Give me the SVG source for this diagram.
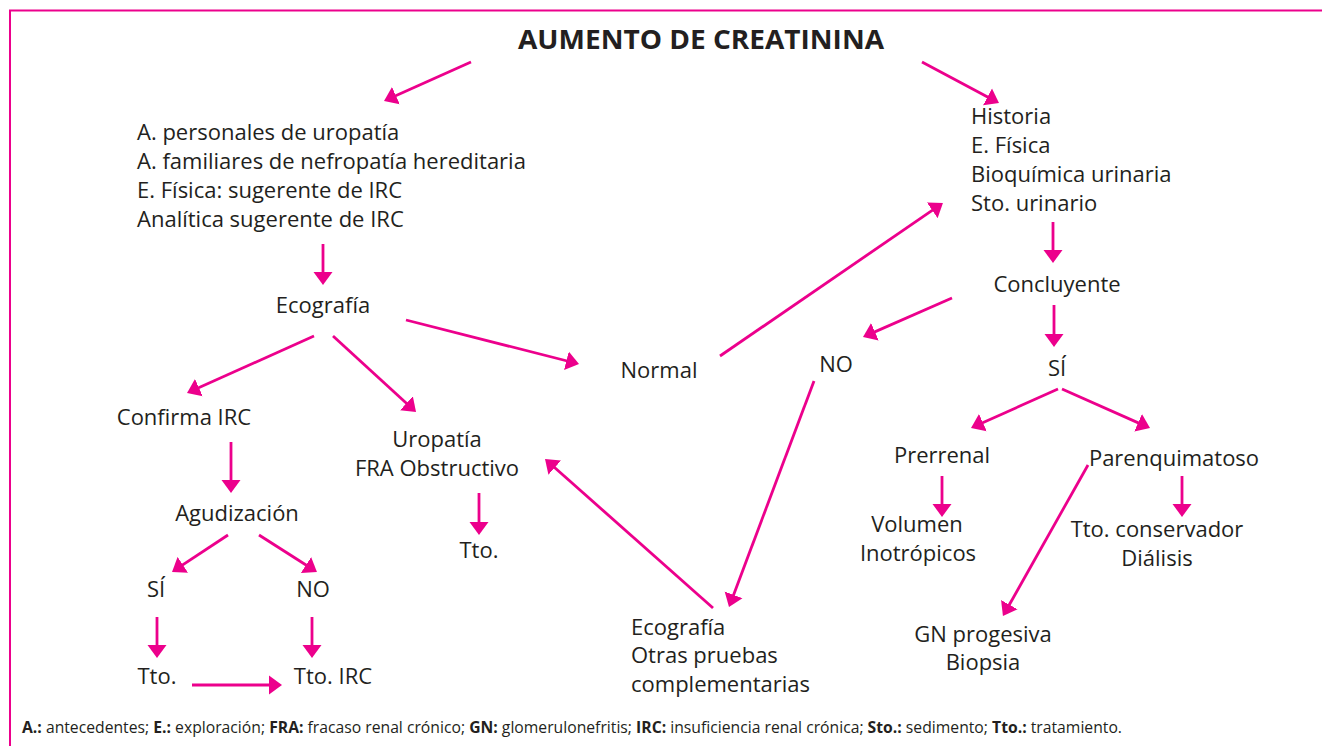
<svg xmlns="http://www.w3.org/2000/svg" width="1322" height="746" viewBox="0 0 1322 746">
<style>
.t{font-family:"Open Sans","Noto Sans","DejaVu Sans",sans-serif;font-size:22px;fill:#231f20}
.c{text-anchor:middle}
.ttl{font-family:"Open Sans","Noto Sans",sans-serif;font-size:26px;font-weight:bold;fill:#231f20;text-anchor:middle}
.ft{font-family:"Open Sans","Noto Sans",sans-serif;font-size:15.5px;fill:#231f20}
.ft .b{font-weight:bold}
.a{stroke:#EC008C;stroke-width:2.8;fill:none;marker-end:url(#ah)}
.frame{stroke:#EC008C;stroke-width:2;fill:none}
</style>
<defs>
<marker id="ah" markerUnits="userSpaceOnUse" markerWidth="20" markerHeight="20" refX="7" refY="10" orient="auto">
<path d="M0,0.5 L13,10 L0,19.5 z" fill="#EC008C"/>
</marker>
</defs>
<rect width="1322" height="746" fill="#fff"/>
<path class="frame" d="M10,746 V10.5 H1322"/>
<g id="title"><text class="ttl" x="701" y="49" textLength="366" lengthAdjust="spacingAndGlyphs">AUMENTO DE CREATININA</text></g>
<g id="n-antecedentes"><text class="t" x="137" y="140">A. personales de uropatía</text><text class="t" x="137" y="169">A. familiares de nefropatía hereditaria</text><text class="t" x="137" y="198">E. Física: sugerente de IRC</text><text class="t" x="137" y="227">Analítica sugerente de IRC</text></g>
<g id="n-historia"><text class="t" x="971" y="124">Historia</text><text class="t" x="971" y="153">E. Física</text><text class="t" x="971" y="182">Bioquímica urinaria</text><text class="t" x="971" y="211">Sto. urinario</text></g>
<g id="n-concluyente"><text class="t c" x="1057" y="292">Concluyente</text></g>
<g id="n-si-r"><text class="t c" x="1057" y="376">SÍ</text></g>
<g id="n-ecografia"><text class="t c" x="323" y="313">Ecografía</text></g>
<g id="n-normal"><text class="t c" x="659" y="378">Normal</text></g>
<g id="n-no-m"><text class="t c" x="836" y="372">NO</text></g>
<g id="n-confirma"><text class="t c" x="184" y="425">Confirma IRC</text></g>
<g id="n-uropatia"><text class="t c" x="437" y="447">Uropatía</text><text class="t c" x="437" y="476">FRA Obstructivo</text></g>
<g id="n-agudizacion"><text class="t c" x="237" y="521">Agudización</text></g>
<g id="n-si-l"><text class="t c" x="156" y="597">SÍ</text></g>
<g id="n-no-l"><text class="t c" x="313" y="597">NO</text></g>
<g id="n-tto-l"><text class="t c" x="157" y="684">Tto.</text></g>
<g id="n-tto-irc"><text class="t c" x="333" y="684">Tto. IRC</text></g>
<g id="n-tto-m"><text class="t c" x="479" y="558">Tto.</text></g>
<g id="n-ecografia2"><text class="t" x="631" y="635">Ecografía</text><text class="t" x="631" y="663">Otras pruebas</text><text class="t" x="631" y="692">complementarias</text></g>
<g id="n-prerrenal"><text class="t c" x="942" y="463">Prerrenal</text></g>
<g id="n-parenquimatoso"><text class="t c" x="1174" y="466">Parenquimatoso</text></g>
<g id="n-volumen"><text class="t c" x="917" y="532">Volumen</text><text class="t c" x="918" y="561">Inotrópicos</text></g>
<g id="n-conservador"><text class="t c" x="1157" y="537">Tto. conservador</text><text class="t c" x="1157" y="566">Diálisis</text></g>
<g id="n-gn"><text class="t c" x="983" y="642">GN progesiva</text><text class="t c" x="983" y="670">Biopsia</text></g>
<g id="connectors">
<path class="a" d="M471,62 L389.5,98.5"/>
<path class="a" d="M922,62 L993.7,100.2"/>
<path class="a" d="M323,244 L323,279"/>
<path class="a" d="M314,336 L192.5,390.5"/>
<path class="a" d="M333,336 L411.6,408"/>
<path class="a" d="M406,320 L573.2,362.5"/>
<path class="a" d="M231,442 L231,487"/>
<path class="a" d="M228,535 L177,568.7"/>
<path class="a" d="M259,535 L311.9,568.8"/>
<path class="a" d="M157,617 L157,652"/>
<path class="a" d="M312,617 L312,652"/>
<path class="a" d="M192,685 L276,685"/>
<path class="a" d="M479,493 L479,529"/>
<path class="a" d="M713,608 L549.5,463"/>
<path class="a" d="M814,381 L731.1,601.4"/>
<path class="a" d="M720,356 L938,206.4"/>
<path class="a" d="M952,298 L868.5,334.6"/>
<path class="a" d="M1053,222 L1053,257"/>
<path class="a" d="M1054,305 L1054,341"/>
<path class="a" d="M1058,389 L976.5,425.5"/>
<path class="a" d="M1062,389 L1144.5,425.6"/>
<path class="a" d="M942,476 L942,511"/>
<path class="a" d="M1182,476 L1182,511"/>
<path class="a" d="M1088,465 L1005.9,610.8"/>
</g>
<g id="footer"><text class="ft" x="22" y="733" textLength="1100" lengthAdjust="spacingAndGlyphs"><tspan class="b">A.:</tspan> antecedentes; <tspan class="b">E.:</tspan> exploración; <tspan class="b">FRA:</tspan> fracaso renal crónico; <tspan class="b">GN:</tspan> glomerulonefritis; <tspan class="b">IRC:</tspan> insuficiencia renal crónica; <tspan class="b">Sto.:</tspan> sedimento; <tspan class="b">Tto.:</tspan> tratamiento.</text></g>
</svg>
